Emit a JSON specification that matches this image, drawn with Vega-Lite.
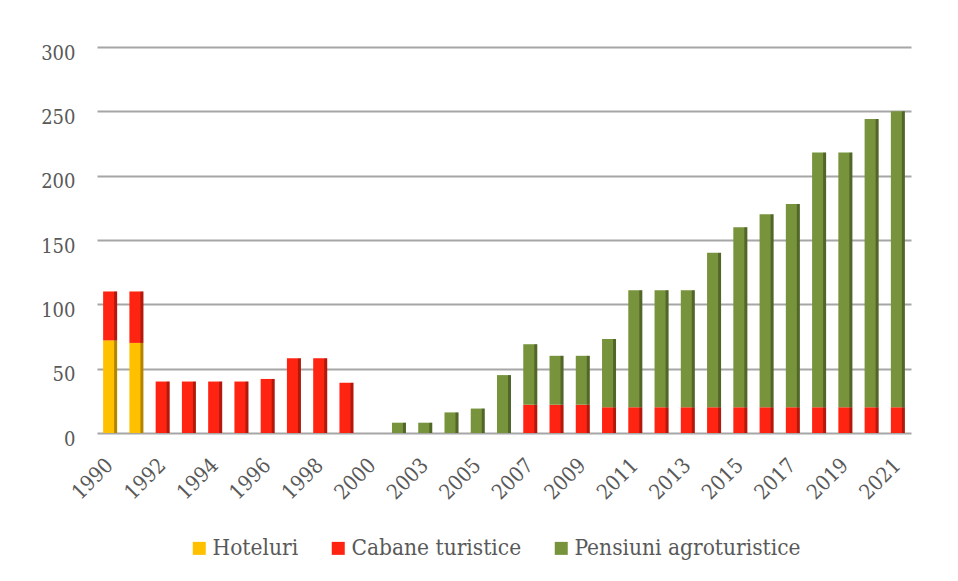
{
  "$schema": "https://vega.github.io/schema/vega-lite/v6.json",
  "width": 814,
  "height": 386,
  "autosize": {"type": "none"},
  "padding": {"left": 97, "top": 47, "right": 47, "bottom": 148},
  "background": "white",
  "config": {
    "view": {"stroke": null},
    "font": "DejaVu Serif Condensed, Liberation Serif, serif"
  },
  "data": {
    "values": [
      {"year": "1990", "type": "Hoteluri", "ord": 1, "value": 72},
      {"year": "1990", "type": "Cabane turistice", "ord": 2, "value": 38},
      {"year": "1991", "type": "Hoteluri", "ord": 1, "value": 70},
      {"year": "1991", "type": "Cabane turistice", "ord": 2, "value": 40},
      {"year": "1992", "type": "Cabane turistice", "ord": 2, "value": 40},
      {"year": "1993", "type": "Cabane turistice", "ord": 2, "value": 40},
      {"year": "1994", "type": "Cabane turistice", "ord": 2, "value": 40},
      {"year": "1995", "type": "Cabane turistice", "ord": 2, "value": 40},
      {"year": "1996", "type": "Cabane turistice", "ord": 2, "value": 42},
      {"year": "1997", "type": "Cabane turistice", "ord": 2, "value": 58},
      {"year": "1998", "type": "Cabane turistice", "ord": 2, "value": 58},
      {"year": "1999", "type": "Cabane turistice", "ord": 2, "value": 39},
      {"year": "2001", "type": "Pensiuni agroturistice", "ord": 3, "value": 8},
      {"year": "2003", "type": "Pensiuni agroturistice", "ord": 3, "value": 8},
      {"year": "2004", "type": "Pensiuni agroturistice", "ord": 3, "value": 16},
      {"year": "2005", "type": "Pensiuni agroturistice", "ord": 3, "value": 19},
      {"year": "2006", "type": "Pensiuni agroturistice", "ord": 3, "value": 45},
      {"year": "2007", "type": "Cabane turistice", "ord": 2, "value": 22},
      {"year": "2007", "type": "Pensiuni agroturistice", "ord": 3, "value": 47},
      {"year": "2008", "type": "Cabane turistice", "ord": 2, "value": 22},
      {"year": "2008", "type": "Pensiuni agroturistice", "ord": 3, "value": 38},
      {"year": "2009", "type": "Cabane turistice", "ord": 2, "value": 22},
      {"year": "2009", "type": "Pensiuni agroturistice", "ord": 3, "value": 38},
      {"year": "2010", "type": "Cabane turistice", "ord": 2, "value": 20},
      {"year": "2010", "type": "Pensiuni agroturistice", "ord": 3, "value": 53},
      {"year": "2011", "type": "Cabane turistice", "ord": 2, "value": 20},
      {"year": "2011", "type": "Pensiuni agroturistice", "ord": 3, "value": 91},
      {"year": "2012", "type": "Cabane turistice", "ord": 2, "value": 20},
      {"year": "2012", "type": "Pensiuni agroturistice", "ord": 3, "value": 91},
      {"year": "2013", "type": "Cabane turistice", "ord": 2, "value": 20},
      {"year": "2013", "type": "Pensiuni agroturistice", "ord": 3, "value": 91},
      {"year": "2014", "type": "Cabane turistice", "ord": 2, "value": 20},
      {"year": "2014", "type": "Pensiuni agroturistice", "ord": 3, "value": 120},
      {"year": "2015", "type": "Cabane turistice", "ord": 2, "value": 20},
      {"year": "2015", "type": "Pensiuni agroturistice", "ord": 3, "value": 140},
      {"year": "2016", "type": "Cabane turistice", "ord": 2, "value": 20},
      {"year": "2016", "type": "Pensiuni agroturistice", "ord": 3, "value": 150},
      {"year": "2017", "type": "Cabane turistice", "ord": 2, "value": 20},
      {"year": "2017", "type": "Pensiuni agroturistice", "ord": 3, "value": 158},
      {"year": "2018", "type": "Cabane turistice", "ord": 2, "value": 20},
      {"year": "2018", "type": "Pensiuni agroturistice", "ord": 3, "value": 198},
      {"year": "2019", "type": "Cabane turistice", "ord": 2, "value": 20},
      {"year": "2019", "type": "Pensiuni agroturistice", "ord": 3, "value": 198},
      {"year": "2020", "type": "Cabane turistice", "ord": 2, "value": 20},
      {"year": "2020", "type": "Pensiuni agroturistice", "ord": 3, "value": 224},
      {"year": "2021", "type": "Cabane turistice", "ord": 2, "value": 20},
      {"year": "2021", "type": "Pensiuni agroturistice", "ord": 3, "value": 230}
    ]
  },
  "encoding": {
    "x": {
      "field": "year",
      "type": "nominal",
      "scale": {
        "domain": ["1990","1991","1992","1993","1994","1995","1996","1997","1998","1999","2000","2001","2003","2004","2005","2006","2007","2008","2009","2010","2011","2012","2013","2014","2015","2016","2017","2018","2019","2020","2021"],
        "paddingInner": 0.5,
        "paddingOuter": 0.25
      },
      "axis": {
        "title": null,
        "values": ["1990","1992","1994","1996","1998","2000","2003","2005","2007","2009","2011","2013","2015","2017","2019","2021"],
        "domain": false,
        "ticks": false,
        "grid": false,
        "labelAngle": -45,
        "labelAlign": "right",
        "labelBaseline": "middle",
        "labelPadding": 29,
        "labelFontSize": 21,
        "labelColor": "#595959"
      }
    },
    "y": {
      "field": "value",
      "type": "quantitative",
      "stack": "zero",
      "scale": {"domain": [0, 300], "nice": false},
      "axis": {
        "title": null,
        "values": [0, 50, 100, 150, 200, 250, 300],
        "domain": false,
        "ticks": false,
        "grid": true,
        "gridColor": "#A6A6A6",
        "gridWidth": 2,
        "labelPadding": 22,
        "labelFontSize": 20,
        "labelColor": "#595959",
        "labelBaseline": "middle",
        "labelOffset": 6
      }
    },
    "order": {"field": "ord", "type": "quantitative"}
  },
  "layer": [
    {
      "mark": {"type": "bar", "width": 14},
      "encoding": {
        "color": {
          "field": "type",
          "type": "nominal",
          "sort": ["Hoteluri", "Cabane turistice", "Pensiuni agroturistice"],
          "scale": {
            "domain": ["Hoteluri", "Cabane turistice", "Pensiuni agroturistice"],
            "range": ["#FFC000", "#FF2412", "#77933C"]
          },
          "legend": {
            "title": null,
            "orient": "none",
            "direction": "horizontal",
            "legendX": 91,
            "legendY": 490,
            "padding": 0,
            "symbolType": "square",
            "symbolSize": 169,
            "symbolStrokeWidth": 0,
            "labelFontSize": 22.5,
            "labelColor": "#595959",
            "labelOffset": 2,
            "columnPadding": 28,
            "labelLimit": 400
          }
        }
      }
    },
    {
      "mark": {"type": "bar", "width": 3, "xOffset": 5.5, "color": "black", "opacity": 0.3},
      "encoding": {
        "detail": {"field": "type", "type": "nominal"}
      }
    }
  ]
}
